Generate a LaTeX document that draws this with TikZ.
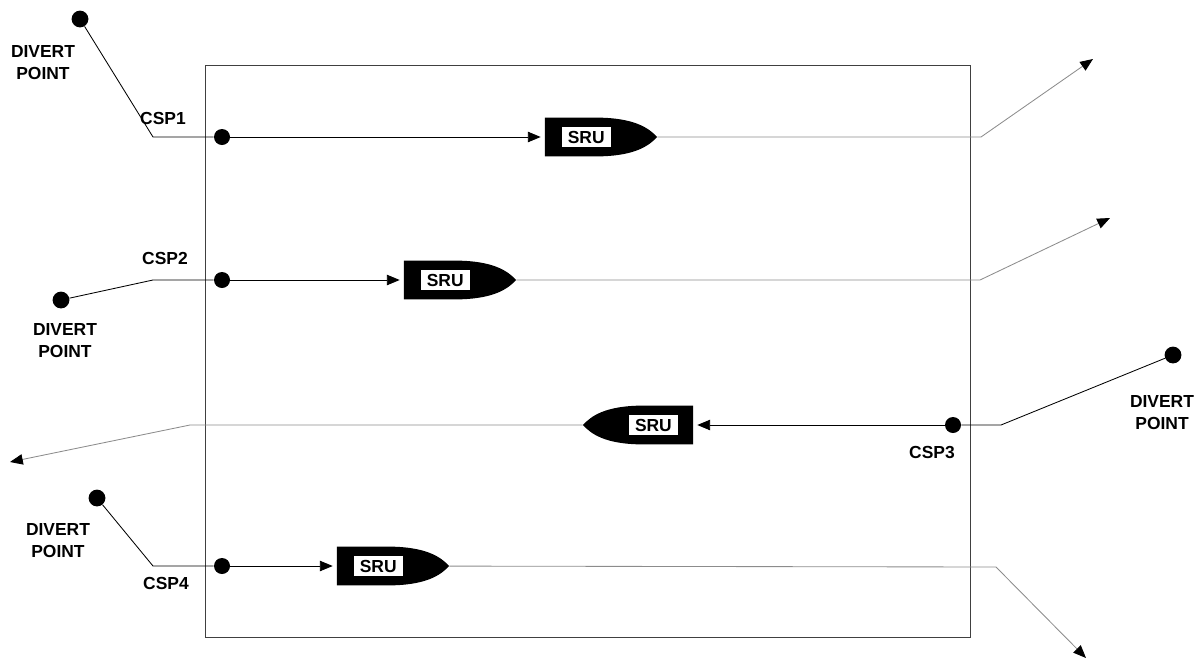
\documentclass[tikz,border=0pt]{standalone}
\usepackage{fontspec}
\setmainfont{Liberation Sans}
\usetikzlibrary{arrows.meta, positioning, calc}
\tikzset{
	dot/.style={circle, fill=black, inner sep=0pt, minimum size=0.42cm},
	csp/.style={circle, fill=black, inner sep=0pt, minimum size=0.4cm},
	sru/.style={rectangle, inner sep=0pt, minimum width=2.8cm, minimum height=0.97cm,
		path picture={
			\fill[black] (path picture bounding box.north west)
				-- ($(path picture bounding box.north west)!0.45!(path picture bounding box.north east)$)
				.. controls ($(path picture bounding box.north west)!0.8!(path picture bounding box.north east)$)
				and ($(path picture bounding box.east)+(-0.2cm,0.22cm)$) .. (path picture bounding box.east)
				.. controls ($(path picture bounding box.east)+(-0.2cm,-0.22cm)$)
				and ($(path picture bounding box.south west)!0.8!(path picture bounding box.south east)$)
				.. ($(path picture bounding box.south west)!0.45!(path picture bounding box.south east)$)
				-- (path picture bounding box.south west) -- cycle;}},
	srurev/.style={rectangle, inner sep=0pt, minimum width=2.75cm, minimum height=0.97cm,
		path picture={
			\fill[black] (path picture bounding box.north east)
				-- ($(path picture bounding box.north east)!0.45!(path picture bounding box.north west)$)
				.. controls ($(path picture bounding box.north east)!0.8!(path picture bounding box.north west)$)
				and ($(path picture bounding box.west)+(0.2cm,0.22cm)$) .. (path picture bounding box.west)
				.. controls ($(path picture bounding box.west)+(0.2cm,-0.22cm)$)
				and ($(path picture bounding box.south east)!0.8!(path picture bounding box.south west)$)
				.. ($(path picture bounding box.south east)!0.45!(path picture bounding box.south west)$)
				-- (path picture bounding box.south east) -- cycle;}},
	srulbl/.style={rectangle, fill=white, inner sep=0pt, minimum width=1.22cm,
		minimum height=0.52cm, font=\fontsize{12.4}{14}\selectfont\bfseries},
	lbl/.style={align=center, inner sep=0pt, font=\fontsize{12.4}{15.6}\selectfont\bfseries},
	frame/.style={draw=black!75, line width=0.6pt},
	feed/.style={draw=black, line width=0.6pt},
	arr/.style={-{Triangle[length=0.32cm, width=0.26cm]}, line width=0.6pt, shorten >=0.1cm},
	outarr/.style={-{Triangle[length=0.32cm, width=0.26cm, color=black]}, draw=black!45, line width=0.6pt},
}
\begin{document}
\begin{tikzpicture}[x=0.025cm, y=-0.025cm]
	\useasboundingbox (0,0) rectangle (1204,659);
	\draw[frame] (205,65) rectangle (970,637);

	% divert points and their labels
	\node[dot] (dp1) at (80,19) {};
	\node[dot] (dp2) at (61,300) {};
	\node[dot] (dp3) at (1173,355) {};
	\node[dot] (dp4) at (97,498) {};
	\node[lbl] (dp1l) at (43,63) {DIVERT\\POINT};
	\node[lbl] (dp2l) at (65,341) {DIVERT\\POINT};
	\node[lbl] (dp3l) at (1162,413) {DIVERT\\POINT};
	\node[lbl] (dp4l) at (58,541) {DIVERT\\POINT};

	% CSPs
	\node[csp] (csp1) at (222,137) {};
	\node[csp] (csp2) at (222,280) {};
	\node[csp] (csp3) at (953,425) {};
	\node[csp] (csp4) at (222,566) {};
	\node[lbl] (csp1l) at (163,118) {CSP1};
	\node[lbl] (csp2l) at (165,258) {CSP2};
	\node[lbl] (csp3l) at (932,453) {CSP3};
	\node[lbl] (csp4l) at (166,583) {CSP4};

	% SRUs
	\node[sru] (sru1) at (601,137) {};
	\node[sru] (sru2) at (460,280) {};
	\node[srurev] (sru3) at (638,425) {};
	\node[sru] (sru4) at (393,566) {};
	\node[srulbl, right=0.42cm of sru1.west] (sru1l) {SRU};
	\node[srulbl, right=0.42cm of sru2.west] (sru2l) {SRU};
	\node[srulbl, left=0.38cm of sru3.east] (sru3l) {SRU};
	\node[srulbl, right=0.42cm of sru4.west] (sru4l) {SRU};

	% bends and ends
	\coordinate (b1) at (153,137);
	\coordinate (b2) at (153,280);
	\coordinate (b3) at (1001,425);
	\coordinate (b4) at (153,566);
	\coordinate (o1) at (981,137);
	\coordinate (o2) at (980,280);
	\coordinate (o3) at (190,425);
	\coordinate (o4) at (996,567);
	\coordinate (t1) at (1093,59);
	\coordinate (t2) at (1110,218);
	\coordinate (t3) at (10,462);
	\coordinate (t4) at (1086,658);

	\draw[feed] (dp1) -- (b1) -- (csp1);
	\draw[feed] (dp2) -- (b2) -- (csp2);
	\draw[feed] (dp3) -- (b3) -- (csp3);
	\draw[feed] (dp4) -- (b4) -- (csp4);

	\draw[arr] (csp1) -- (sru1);
	\draw[arr] (csp2) -- (sru2);
	\draw[arr] (csp3) -- (sru3);
	\draw[arr] (csp4) -- (sru4);

	\draw[outarr] (sru1) -- (o1) -- (t1);
	\draw[outarr] (sru2) -- (o2) -- (t2);
	\draw[outarr] (sru3) -- (o3) -- (t3);
	\draw[outarr] (sru4) -- (o4) -- (t4);
\end{tikzpicture}
\end{document}
